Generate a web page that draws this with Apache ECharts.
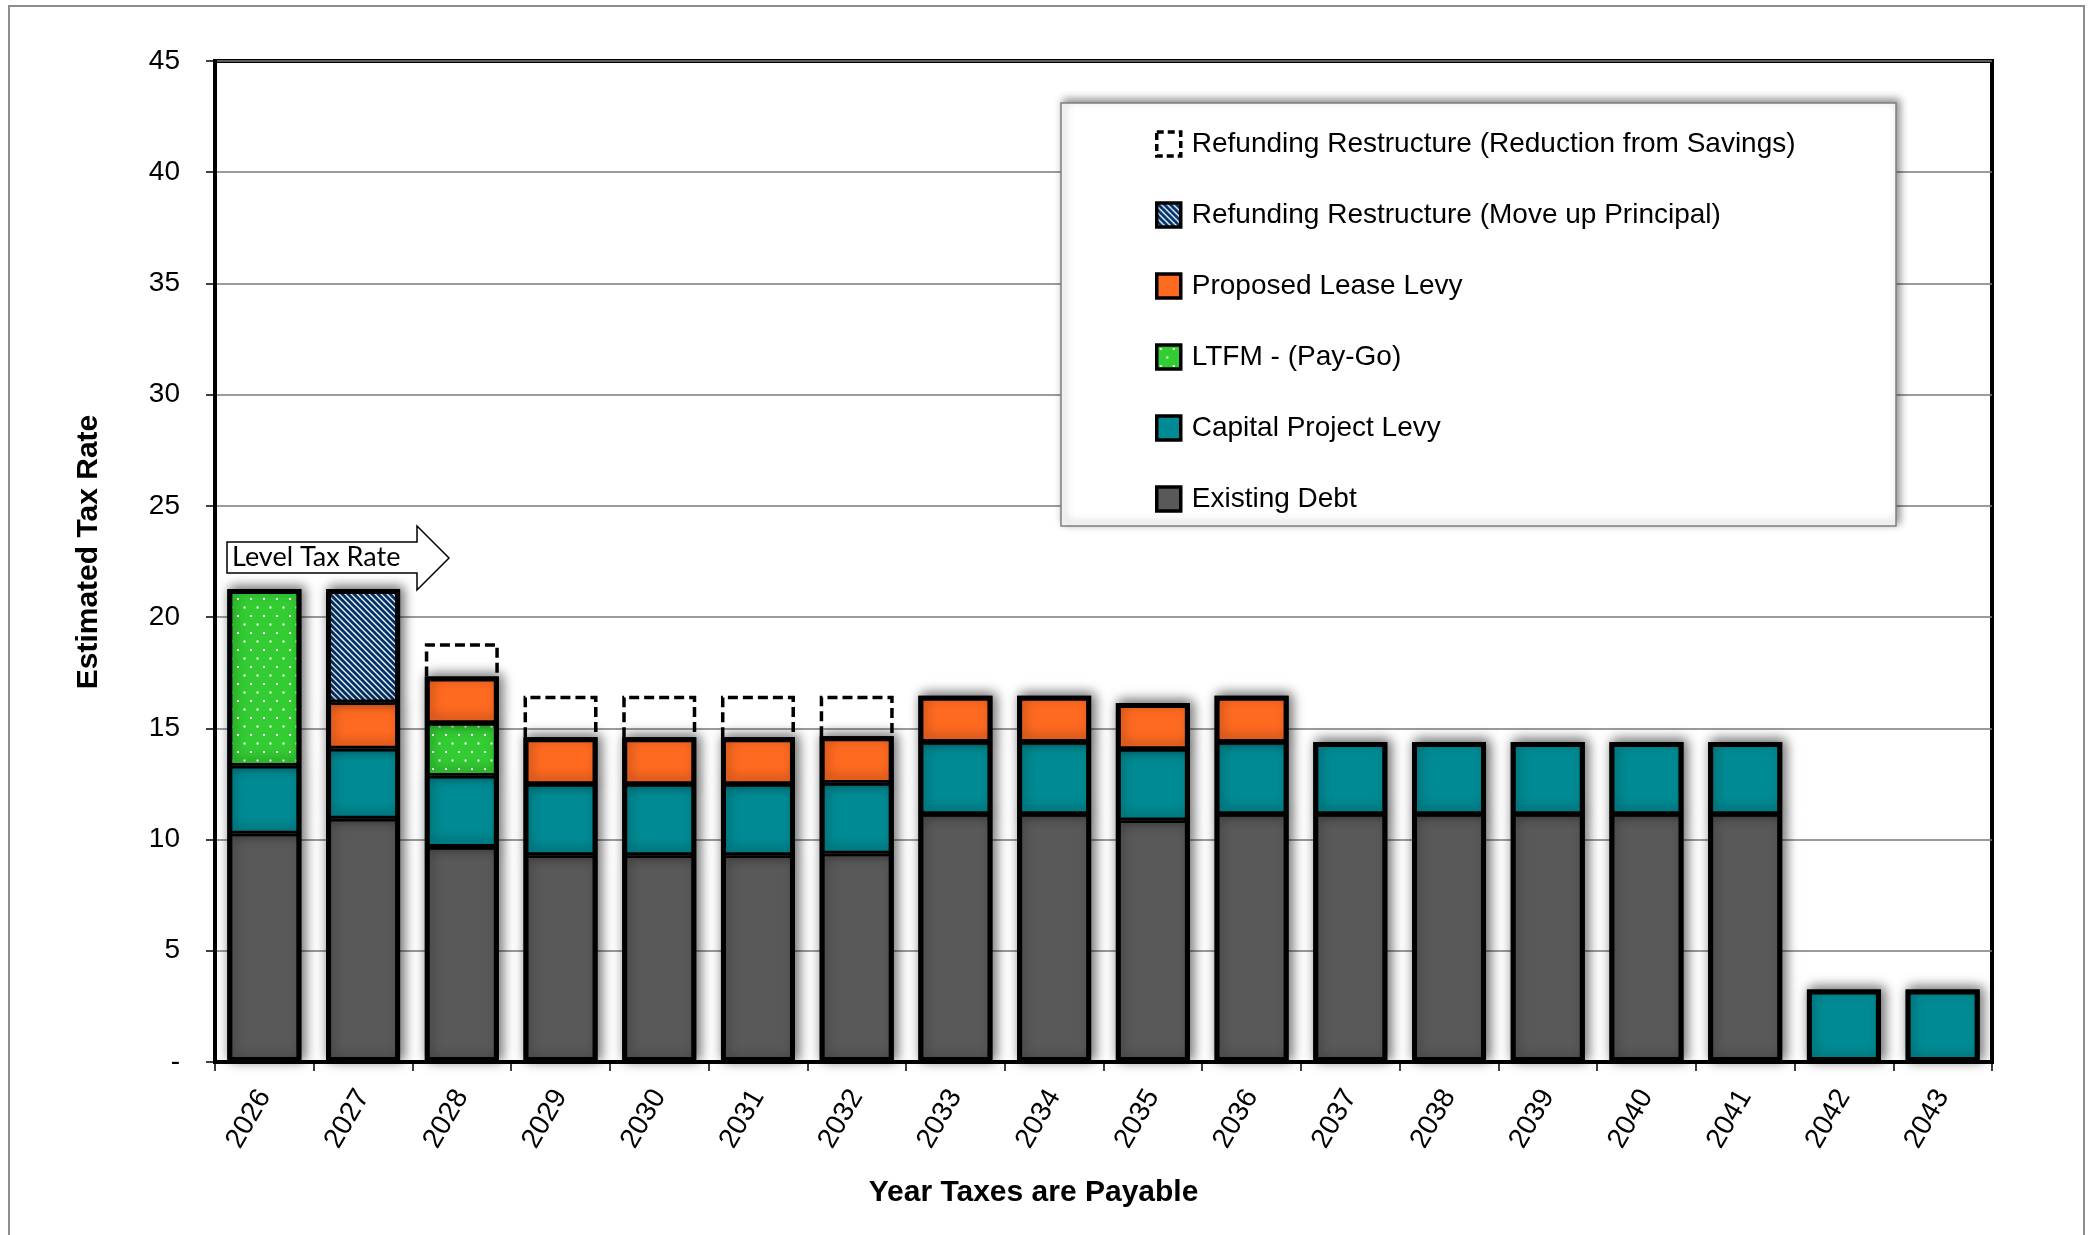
<!DOCTYPE html>
<html>
<head>
<meta charset="utf-8">
<script src="https://cdn.jsdelivr.net/npm/echarts@6/dist/echarts.min.js"></script>
<style>
html,body{margin:0;padding:0;background:#fff;}
#chart{width:2089px;height:1235px;}
</style>
</head>
<body>
<div id="chart"></div>
<script>
// ---- data ----
const categories = ['2026','2027','2028','2029','2030','2031','2032','2033','2034','2035','2036','2037','2038','2039','2040','2041','2042','2043'];
const existingDebt        = [10.27,10.94,9.67,9.30,9.30,9.30,9.37,11.15,11.15,10.87,11.15,11.15,11.15,11.15,11.15,11.15,null,null];
const capitalProjectLevy  = [3.05,3.15,3.20,3.20,3.20,3.20,3.18,3.24,3.24,3.20,3.24,3.24,3.24,3.24,3.24,3.24,3.26,3.26];
const ltfmPayGo           = [7.94,null,2.37,null,null,null,null,null,null,null,null,null,null,null,null,null,null,null];
const proposedLeaseLevy   = [null,2.08,2.09,2.10,2.10,2.10,2.09,2.08,2.08,2.07,2.08,null,null,null,null,null,null,null];
const moveUpPrincipal     = [null,5.09,null,null,null,null,null,null,null,null,null,null,null,null,null,null,null,null];
const reductionSavings    = [null,null,1.50,1.87,1.87,1.87,1.83,null,null,null,null,null,null,null,null,null,null,null];
const seriesNames = ['Existing Debt','Capital Project Levy','LTFM - (Pay-Go)','Proposed Lease Levy','Refunding Restructure (Move up Principal)','Refunding Restructure (Reduction from Savings)'];

// stack totals of the solid segments (used for the outline and for the base of the dashed boxes)
const solidSeries = [existingDebt, capitalProjectLevy, ltfmPayGo, proposedLeaseLevy, moveUpPrincipal];
const solidTotals = categories.map((_, i) => solidSeries.reduce((s, a) => s + (a[i] || 0), 0));
const dashedData = [];
reductionSavings.forEach((v, i) => { if (v != null) dashedData.push([i, solidTotals[i], v]); });

// ---- patterns ----
function dotPattern(){
  const c=document.createElement('canvas'); c.width=13; c.height=17;
  const g=c.getContext('2d');
  g.fillStyle='#33CC33'; g.fillRect(0,0,13,17);
  g.fillStyle='#ffffff';
  g.fillRect(3,3,2,2); g.fillRect(9.5,11.5,2,2);
  return c;
}
function hatchPattern(){
  const s=6;
  const c=document.createElement('canvas'); c.width=s; c.height=s;
  const g=c.getContext('2d');
  g.fillStyle='#ffffff'; g.fillRect(0,0,s,s);
  g.strokeStyle='#00336B'; g.lineWidth=2.9; g.lineCap='square';
  g.beginPath();
  g.moveTo(0,0); g.lineTo(s,s);
  g.moveTo(-s,0); g.lineTo(s,2*s);
  g.moveTo(0,-s); g.lineTo(2*s,s);
  g.stroke();
  return c;
}
const dotFill = {image: dotPattern(), repeat:'repeat'};
const hatchFill = {image: hatchPattern(), repeat:'repeat'};

const FONT='"Liberation Sans", Arial, sans-serif';
const BAR_W = 74;
const shadow = {shadowBlur:12, shadowColor:'rgba(0,0,0,0.6)', shadowOffsetX:3, shadowOffsetY:-2};

function barSeries(name, data, style){
  return {
    name, type:'bar', stack:'total', data, barWidth:BAR_W, barGap:'-100%',
    itemStyle: Object.assign({borderColor:'#000', borderWidth:2.8}, shadow, style),
    emphasis:{disabled:true}
  };
}

const chart = echarts.init(document.getElementById('chart'), null, {renderer:'canvas'});
const option = {
  animation:false,
  backgroundColor:'#ffffff',
  grid:{left:215, top:61, right:97, bottom:173, show:true, borderColor:'#000', borderWidth:4, backgroundColor:'transparent', containLabel:false},
  xAxis:{
    type:'category', data:categories, boundaryGap:true,
    axisLine:{lineStyle:{color:'#000', width:4}},
    axisTick:{show:true, interval:0, length:9, lineStyle:{color:'#000', width:1.5}},
    axisLabel:{interval:0, rotate:60, margin:30, color:'#000', fontSize:28, fontFamily:FONT},
    name:'Year Taxes are Payable', nameLocation:'middle', nameGap:116,
    nameTextStyle:{color:'#000', fontSize:30, fontWeight:'bold', fontFamily:FONT, padding:[0,140,0,0]}
  },
  yAxis:{
    type:'value', min:0, max:45, interval:5,
    axisLine:{show:true, lineStyle:{color:'#000', width:4}},
    axisTick:{show:true, length:9, lineStyle:{color:'#000', width:1.5}},
    axisLabel:{color:'#000', fontSize:28, fontFamily:FONT, margin:35,
      formatter:function(v){ return v===0 ? '-' : String(v); }},
    splitLine:{show:true, lineStyle:{color:'#7a7a7a', width:1.5}},
    name:'Estimated Tax Rate', nameLocation:'middle', nameGap:111, nameRotate:90,
    nameTextStyle:{color:'#000', fontSize:30, fontWeight:'bold', fontFamily:FONT, padding:[0,0,0,19]}
  },
  legend:{
    orient:'vertical', left:1150, top:124, itemWidth:24, itemHeight:24, itemGap:41,
    icon:'rect', selectedMode:false, z:6,
    textStyle:{color:'#000', fontSize:28, fontFamily:FONT, lineHeight:30, padding:[0,0,0,6]},
    data:[
      {name:seriesNames[5], itemStyle:{color:'#ffffff', borderColor:'#000', borderWidth:3.5, borderType:[7,4]}},
      {name:seriesNames[4], itemStyle:{color:hatchFill, borderColor:'#000', borderWidth:3.5}},
      {name:seriesNames[3], itemStyle:{color:'#FF6A21', borderColor:'#000', borderWidth:3.5}},
      {name:seriesNames[2], itemStyle:{color:dotFill, borderColor:'#000', borderWidth:3.5}},
      {name:seriesNames[1], itemStyle:{color:'#008B94', borderColor:'#000', borderWidth:3.5}},
      {name:seriesNames[0], itemStyle:{color:'#595959', borderColor:'#000', borderWidth:3.5}}
    ]
  },
  graphic:[
    {type:'rect', z:1, silent:true, shape:{x:9, y:6, width:2075, height:1300},
      style:{fill:'none', stroke:'#8c8c8c', lineWidth:2}},
    {type:'rect', z:5, silent:true, shape:{x:1061, y:103, width:835, height:423},
      style:{fill:'#ffffff', stroke:'#7f7f7f', lineWidth:1.5, shadowBlur:8, shadowColor:'rgba(0,0,0,0.45)', shadowOffsetX:3, shadowOffsetY:-3}},
    {type:'polygon', z:10, silent:true,
      shape:{points:[[227,542],[417,542],[417,526],[449,558],[417,590],[417,573],[227,573]]},
      style:{fill:'#ffffff', stroke:'#000', lineWidth:1.5}},
    {type:'text', z:11, silent:true, x:232, y:557,
      style:{text:'Level Tax Rate', fill:'#000', font:'27px Lato, "Open Sans", sans-serif', verticalAlign:'middle', align:'left'}}
  ],
  series:[
    barSeries(seriesNames[0], existingDebt, {color:'#595959'}),
    barSeries(seriesNames[1], capitalProjectLevy, {color:'#008B94'}),
    barSeries(seriesNames[2], ltfmPayGo, {color:dotFill}),
    barSeries(seriesNames[3], proposedLeaseLevy, {color:'#FF6A21'}),
    barSeries(seriesNames[4], moveUpPrincipal, {color:hatchFill}),
    {
      name:'outline', type:'bar', data:solidTotals, barWidth:BAR_W, barGap:'-100%', z:3, silent:true,
      itemStyle:{color:'rgba(0,0,0,0)', borderColor:'#000', borderWidth:5},
      emphasis:{disabled:true}, tooltip:{show:false}
    },
    {
      name:seriesNames[5], type:'custom', z:1, silent:true, data:dashedData,
      encode:{x:0, y:[1,2]},
      itemStyle:{color:'#ffffff', borderColor:'#000'},
      renderItem:function(params, api){
        const idx = api.value(0), base = api.value(1), val = api.value(2);
        const pB = api.coord([idx, base]);
        const pT = api.coord([idx, base + val]);
        const w = BAR_W;
        const x0 = pB[0] - w/2 + 1.75, x1 = pB[0] + w/2 - 1.75, yT = pT[1] + 1.75;
        return {
          type:'polyline',
          shape:{points:[[x0, pB[1]], [x0, yT], [x1, yT], [x1, pB[1]]]},
          style:{fill:null, stroke:'#000', lineWidth:3.5, lineDash:[10,5]}
        };
      }
    }
  ]
};
chart.setOption(option);
</script>
</body>
</html>
